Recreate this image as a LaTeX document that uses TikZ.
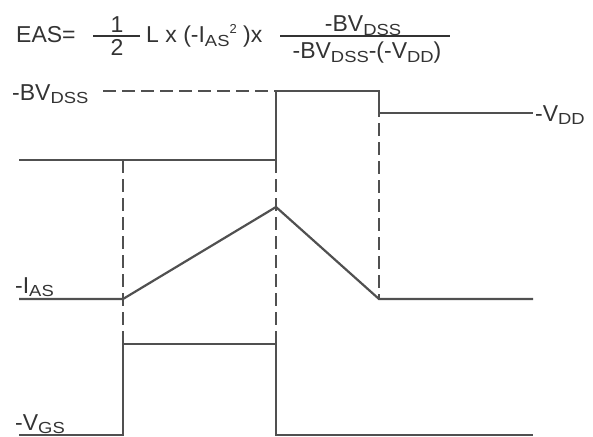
\documentclass[tikz,border=0pt]{standalone}
\usepackage{fontspec}
\setmainfont{Liberation Sans}
\newcommand{\lo}[1]{\raisebox{-0.25ex}{\fontsize{16}{16}\selectfont\scalebox{1.15}[1]{#1}}}
\newcommand{\hi}[1]{\raisebox{0.8ex}{\fontsize{13}{13}\selectfont #1}}
\definecolor{wave}{HTML}{505050}
\definecolor{ink}{HTML}{333333}
\tikzset{
  trace/.style={draw=wave, line width=2.2pt, line join=miter},
  guide/.style={draw=wave, line width=2pt, dash pattern=on 13pt off 6pt},
  lbl/.style={inner sep=0pt, anchor=base west, text=ink, font=\fontsize{23}{23}\selectfont},
  frac/.style={inner sep=0pt, anchor=base, text=ink, font=\fontsize{23}{23}\selectfont}
}
\begin{document}
\begin{tikzpicture}[x=1pt,y=-1pt]
		\useasboundingbox (0,0) rectangle (593,436);
		% formula
		\node[lbl] (eas) at (16,43) {EAS=};
		\node[frac] (one) at (117,33) {1};
		\node[frac] (two) at (117,56) {2};
		\draw[draw=ink, line width=1.4pt] (93,36) -- (140,36);
		\node[lbl] (mid) at (146,43) {L x (-I\lo{AS}\hi{2} )x};
		\node[frac] (num) at (363,32) {-BV\lo{DSS}};
		\node[frac] (den) at (367,59) {-BV\lo{DSS}-(-V\lo{DD})};
		\draw[draw=ink, line width=1.4pt] (280,36) -- (450,36);
		% level labels
		\node[lbl] (bv) at (12,100) {-BV\lo{DSS}};
		\node[lbl] (vdd) at (535,121) {-V\lo{DD}};
		\node[lbl] (ias) at (15,293) {-I\lo{AS}};
		\node[lbl] (vgs) at (15,430) {-V\lo{GS}};
		% drain voltage
		\draw[guide] (103,91) -- (276,91);
		\draw[trace] (19,160) -- (276,160) -- (276,91) -- (379,91) -- (379,113) -- (533,113);
		% current
		\draw[trace] (19,299) -- (123,299) -- (276,207) -- (379,299) -- (533,299);
		% gate voltage
		\draw[trace] (19,435) -- (123,435) -- (123,344) -- (276,344) -- (276,435) -- (533,435);
		% time markers
		\draw[guide] (123,160) -- (123,344);
		\draw[guide] (276,160) -- (276,344);
		\draw[guide, dash phase=-10pt] (379,113) -- (379,299);
	\end{tikzpicture}
\end{document}
